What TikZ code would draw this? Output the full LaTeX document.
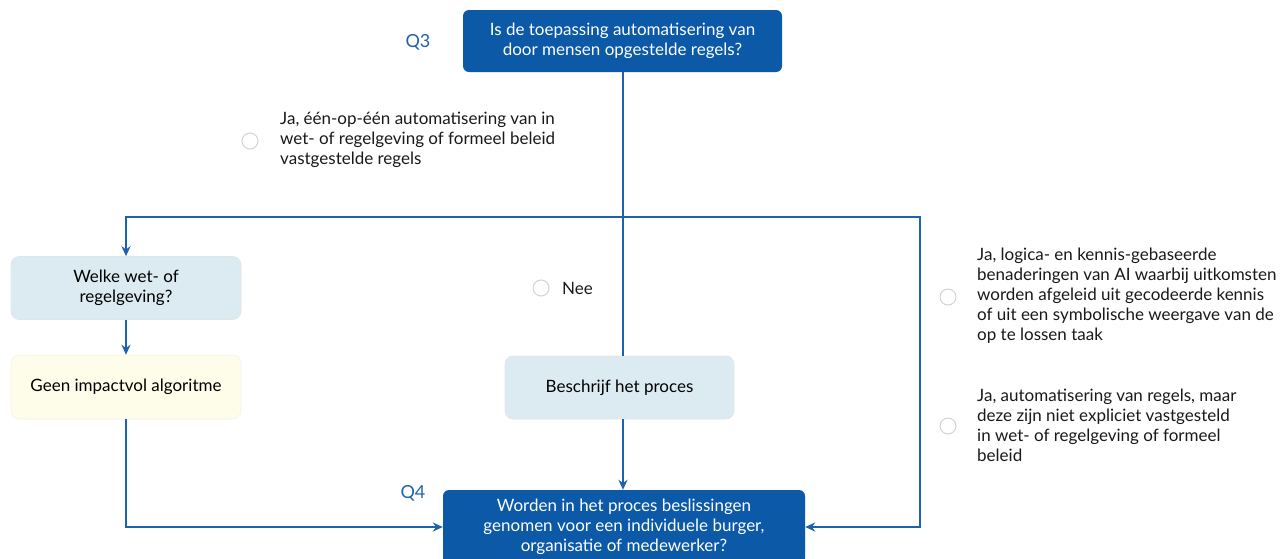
\documentclass[tikz,border=0pt]{standalone}
\usepackage{fontspec}
\setmainfont{Lato}
\usepackage{tikz}
\usetikzlibrary{shapes.geometric, arrows, arrows.meta}
\definecolor{darkblue}{HTML}{0B59A7}
\definecolor{lineblue}{HTML}{1D62AD}
\definecolor{lightblue}{HTML}{DCEBF2}
\definecolor{lightyellow}{HTML}{FEFDE9}
\tikzstyle{question} = [rectangle, rounded corners=6pt, fill=darkblue, text=white, align=center, inner sep=0pt]
\tikzstyle{stepbox} = [rectangle, rounded corners=8pt, fill=lightblue, draw=lightblue!80!gray!60, line width=0.6pt, align=center, inner sep=0pt, minimum width=230pt, minimum height=63pt]
\tikzstyle{endbox} = [stepbox, fill=lightyellow, draw=lightyellow!85!gray!60]
\tikzstyle{answer} = [anchor=west, align=left, inner sep=0pt, text=black!90]
\tikzstyle{radio} = [circle, draw=gray!35, line width=1pt, minimum size=16pt, inner sep=0pt]
\tikzstyle{qlabel} = [text=lineblue, font=\fontsize{18}{20}\selectfont]
\tikzstyle{line} = [lineblue, line width=1.9pt]
\tikzstyle{arrow} = [line,->,>={Stealth[length=10pt,width=9pt]}]

\begin{document}
\begin{tikzpicture}[x=1pt, y=-1pt, font=\fontsize{17}{20}\selectfont]
\useasboundingbox (0,0) rectangle (1282,558);
% vragen
\node (Q3) [question, minimum width=319pt, minimum height=62pt] at (622.5,41) {Is de toepassing automatisering van\\door mensen opgestelde regels?};
\node (Q3lab) [qlabel] at (418,42) {Q3};
\node (Q4) [question, minimum width=362pt, minimum height=74pt] at (624,527) {Worden in het proces beslissingen\\genomen voor een individuele burger,\\organisatie of medewerker?};
\node (Q4lab) [qlabel] at (413,493) {Q4};

% stappen
\node (welke) [stepbox] at (126,288) {Welke wet- of\\regelgeving?};
\node (geen) [endbox, minimum height=64pt] at (126,387) {Geen impactvol algoritme};
\node (proces) [stepbox, minimum width=229pt] at (619.5,387.5) {Beschrijf het proces};

% antwoorden
\node (r1) [radio] at (250,141) {};
\node (a1) [answer] at (280,140) {Ja, één-op-één automatisering van in\\wet- of regelgeving of formeel beleid\\vastgestelde regels};
\node (r2) [radio] at (541,288) {};
\node (a2) [answer] at (562,288) {Nee};
\node (r3) [radio] at (948,297) {};
\node (a3) [answer] at (977,296) {Ja, logica- en kennis-gebaseerde\\benaderingen van AI waarbij uitkomsten\\worden afgeleid uit gecodeerde kennis\\of uit een symbolische weergave van de\\op te lossen taak};
\node (r4) [radio] at (948,426) {};
\node (a4) [answer] at (977,425) {Ja, automatisering van regels, maar\\deze zijn niet expliciet vastgesteld\\in wet- of regelgeving of formeel\\beleid};

\coordinate (split) at (623,217);
\coordinate (rcorner) at (920,217);

\draw [line] (Q3.south -| split) -- (split |- proces.north);
\draw [arrow] (split) -| (welke.north);
\draw [arrow] (split) -- (rcorner) |- (Q4.east);
\draw [arrow] (welke) -- (geen);
\draw [arrow] (geen.south) |- (Q4.west);
\draw [arrow] (split |- proces.south) -- (split |- Q4.north);
\end{tikzpicture}
\end{document}
